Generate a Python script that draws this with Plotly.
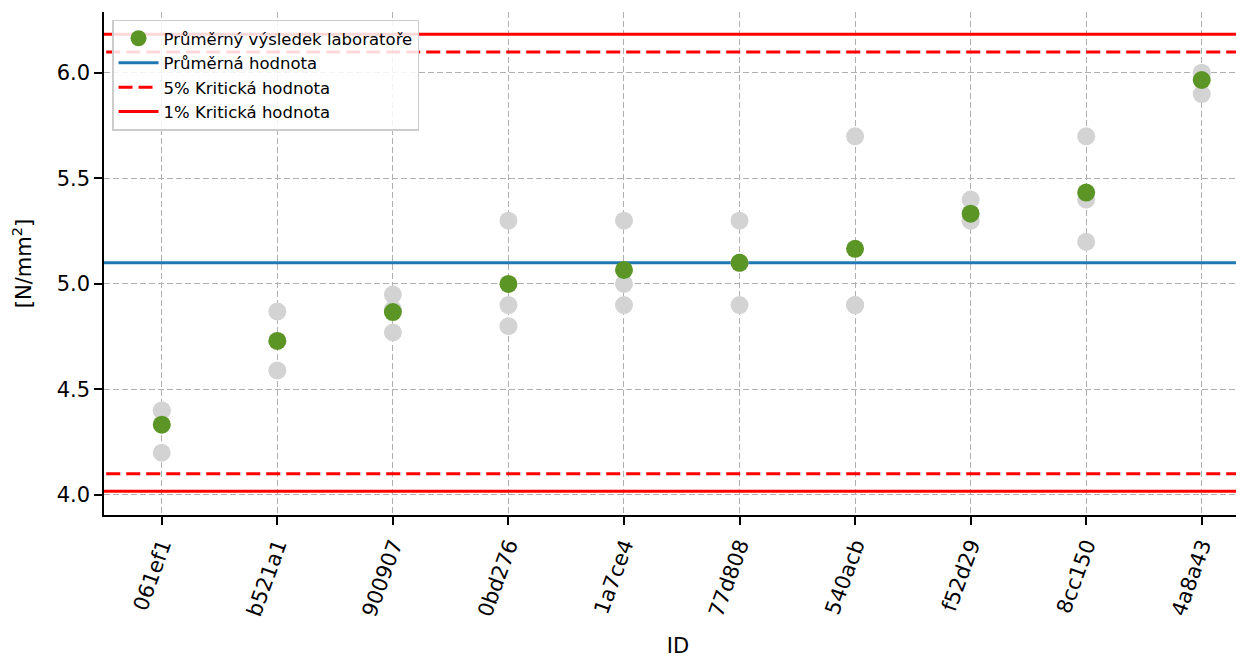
import plotly.graph_objects as go

# ---- data ----
lab_ids = ["061ef1", "b521a1", "900907", "0bd276", "1a7ce4",
           "77d808", "540acb", "f52d29", "8cc150", "4a8a43"]
lab_results = [
    [4.40, 4.40, 4.20],
    [4.87, 4.73, 4.59],
    [4.95, 4.88, 4.77],
    [5.30, 4.90, 4.80],
    [5.30, 5.00, 4.90],
    [5.30, 5.10, 4.90],
    [5.70, 4.90, 4.90],
    [5.40, 5.30, 5.30],
    [5.70, 5.40, 5.20],
    [6.00, 6.00, 5.90],
]
mean_value = 5.1
crit_5 = [4.1, 6.1]
crit_1 = [4.017, 6.183]
y_ticks = [4.0, 4.5, 5.0, 5.5, 6.0]

lab_means = [sum(v) / len(v) for v in lab_results]
xpos = list(range(len(lab_ids)))

FONT = "DejaVu Sans"
GREEN = "#5b9526"
RED = "#ff0000"
BLUE = "#1f77b4"

fig = go.Figure()

# reference lines
xl = [-1, len(lab_ids)]
fig.add_trace(go.Scatter(x=xl, y=[mean_value] * 2, mode="lines",
                         line=dict(color=BLUE, width=3), name="Průměrná hodnota",
                         legendrank=2))
for i, v in enumerate(crit_5):
    fig.add_trace(go.Scatter(x=xl, y=[v] * 2, mode="lines",
                             line=dict(color=RED, width=3, dash="14px,6px"),
                             name="5% Kritická hodnota", showlegend=(i == 0),
                             legendrank=3))
for i, v in enumerate(crit_1):
    fig.add_trace(go.Scatter(x=xl, y=[v] * 2, mode="lines",
                             line=dict(color=RED, width=3),
                             name="1% Kritická hodnota", showlegend=(i == 0),
                             legendrank=4))

# individual results
gx, gy = [], []
for i, vals in enumerate(lab_results):
    for v in vals:
        gx.append(i)
        gy.append(v)
fig.add_trace(go.Scatter(x=gx, y=gy, mode="markers",
                         marker=dict(color="#d3d3d3", size=18),
                         showlegend=False, hoverinfo="skip"))

# lab means
fig.add_trace(go.Scatter(x=xpos, y=lab_means, mode="markers",
                         marker=dict(color=GREEN, size=18),
                         name="Průměrný výsledek laboratoře", legendrank=1))

fig.update_layout(
    width=1244, height=657,
    margin=dict(l=96, r=0, t=4, b=150),
    plot_bgcolor="white", paper_bgcolor="white",
    font=dict(family=FONT, color="black", size=21),
    showlegend=True,
    legend=dict(x=0.007, y=0.985, xanchor="left", yanchor="top",
                bgcolor="rgba(255,255,255,0.85)", bordercolor="#cccccc",
                borderwidth=1.5, font=dict(size=16.5, family=FONT),
                tracegroupgap=0, itemwidth=40),
)
fig.update_xaxes(
    range=[-0.5, 9.435], tickmode="array", tickvals=xpos, ticktext=lab_ids,
    tickangle=-70, ticks="outside", ticklen=8, tickwidth=1.5, tickcolor="black",
    showline=True, linecolor="black", linewidth=1.5, mirror=False,
    showgrid=True, gridcolor="#b0b0b0", griddash="6px,3px", gridwidth=1,
    zeroline=False, tickfont=dict(size=21), automargin=False,
    title=dict(text="ID", font=dict(size=21), standoff=19),
)
fig.update_yaxes(
    range=[3.905, 6.289], tickmode="array", tickvals=y_ticks,
    ticktext=[f"{t:.1f}" for t in y_ticks],
    ticks="outside", ticklen=8, tickwidth=1.5, tickcolor="black",
    showline=True, linecolor="black", linewidth=1.5, mirror=False,
    showgrid=True, gridcolor="#b0b0b0", griddash="6px,3px", gridwidth=1,
    zeroline=False, tickfont=dict(size=21), automargin=False,
    title=dict(text="[N/mm<sup>2</sup>]", font=dict(size=21), standoff=25),
)

fig.write_html("out.html")
